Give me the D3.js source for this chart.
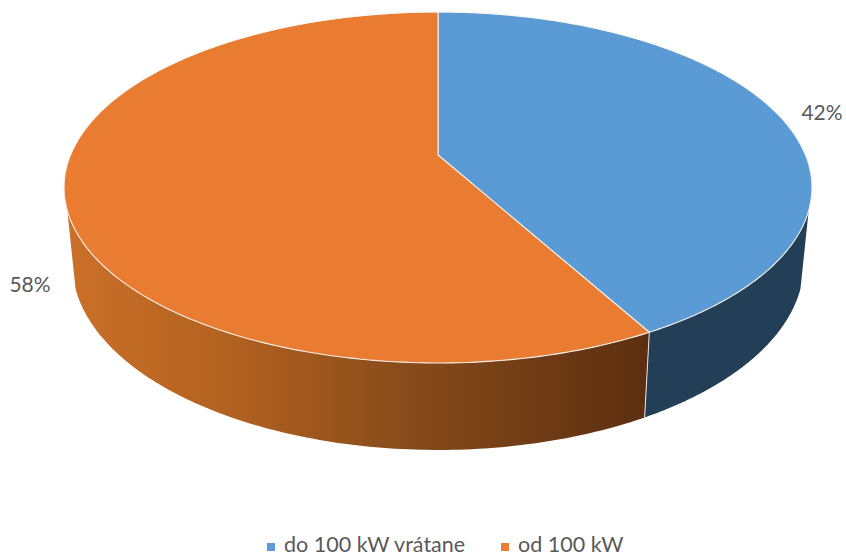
<!DOCTYPE html>
<html><head><meta charset="utf-8">
<script src="https://cdnjs.cloudflare.com/ajax/libs/d3/7.8.5/d3.min.js"></script>
<style>html,body{margin:0;padding:0;background:#fff;overflow:hidden}svg{display:block}text{font-family:Lato,"Open Sans",sans-serif;fill:#595959}</style>
</head><body><svg id="c" width="846" height="556"></svg>
<script>
const categories = ["do 100 kW vrátane", "od 100 kW"];
const values = [42, 58];
const labels = ["42%", "58%"];
const topColors = ["#5B9BD5", "#E97C30"];
const W = 846, H = 556;
const cx = 438, cy = 155, k = -0.185, A = 169.5, B = 367.5;
const depthY = 74.5, depthScaleY = 1.06, depthScale = 0.978;
const svg = d3.select("#c").attr("viewBox", `0 0 ${W} ${H}`);
const slices = d3.pie().sort(null).value(d => d)(values);

// perspective projection of a point on the pie's rim
function rim(t) {
  const u = Math.sin(t), v = -Math.cos(t), w = 1 + k * v;
  return [cx + B * u / w, cy + A * v / w];
}
function lower(p) {
  return [cx + (p[0] - cx) * depthScale, cy + depthY + (p[1] - cy) * depthScaleY];
}
const line = d3.line();
const samples = (a, b, n = 120) => d3.range(n + 1).map(i => a + (b - a) * i / n);

const defs = svg.append("defs");
const grad = defs.append("linearGradient").attr("id", "sideOrange")
  .attr("gradientUnits", "userSpaceOnUse").attr("x1", 66).attr("x2", 650).attr("y1", 0).attr("y2", 0);
[[0, "#CB7029"], [0.3, "#B0601F"], [0.6, "#854A1A"], [1, "#5C2E10"]]
  .forEach(s => grad.append("stop").attr("offset", s[0]).attr("stop-color", s[1]));

// side walls: visible silhouette starts a little below the widest point
const sideStart = Math.PI - Math.acos(0.31), sideEnd = 2 * Math.PI - sideStart;
const split = slices[0].endAngle;
const walls = [
  {a: sideStart, b: split, fill: "#233F57"},
  {a: split, b: sideEnd, fill: "url(#sideOrange)"}
];
svg.selectAll("path.wall").data(walls).join("path").attr("class", "wall")
  .attr("fill", d => d.fill)
  .attr("d", d => {
    const ts = samples(d.a, d.b);
    const top = ts.map(t => rim(t));
    const bottom = ts.map(t => lower(rim(t))).reverse();
    return line(top.concat(bottom)) + "Z";
  });
// light edge between walls
const ps = rim(split);
svg.append("line").attr("x1", ps[0]).attr("y1", ps[1])
  .attr("x2", lower(ps)[0]).attr("y2", lower(ps)[1])
  .attr("stroke", "#E8E4DE").attr("stroke-width", 1);

// top face
svg.selectAll("path.top").data(slices).join("path").attr("class", "top")
  .attr("fill", (d, i) => topColors[i])
  .attr("stroke", "#F4EFE9").attr("stroke-width", 1.1).attr("stroke-linejoin", "round")
  .attr("d", d => line([[cx, cy]].concat(samples(d.startAngle, d.endAngle, 200).map(t => rim(t)))) + "Z");
svg.selectAll("path.back").data([0]).join("path")
  .attr("fill", "none").attr("stroke", "#fff").attr("stroke-width", 0.6)
  .attr("d", line(samples(-Math.PI * 0.5, Math.PI * 0.5).map(t => rim(t))));

// data labels
const labelPos = [[822, 120], [30, 292]];
svg.selectAll("text.lab").data(labels).join("text").attr("class", "lab")
  .attr("x", (d, i) => labelPos[i][0]).attr("y", (d, i) => labelPos[i][1])
  .attr("text-anchor", "middle").attr("font-size", 21).text(d => d);

// legend
const legendX = [[267, 284], [501, 518]];
const legend = svg.selectAll("g.leg").data(categories).join("g").attr("class", "leg");
legend.append("rect").attr("x", (d, i) => legendX[i][0]).attr("y", 543).attr("width", 8).attr("height", 8)
  .attr("fill", (d, i) => ["#5B9BD5", "#ED7D31"][i]);
legend.append("text").attr("x", (d, i) => legendX[i][1]).attr("y", 552).attr("font-size", 21.5).text(d => d);
</script></body></html>
